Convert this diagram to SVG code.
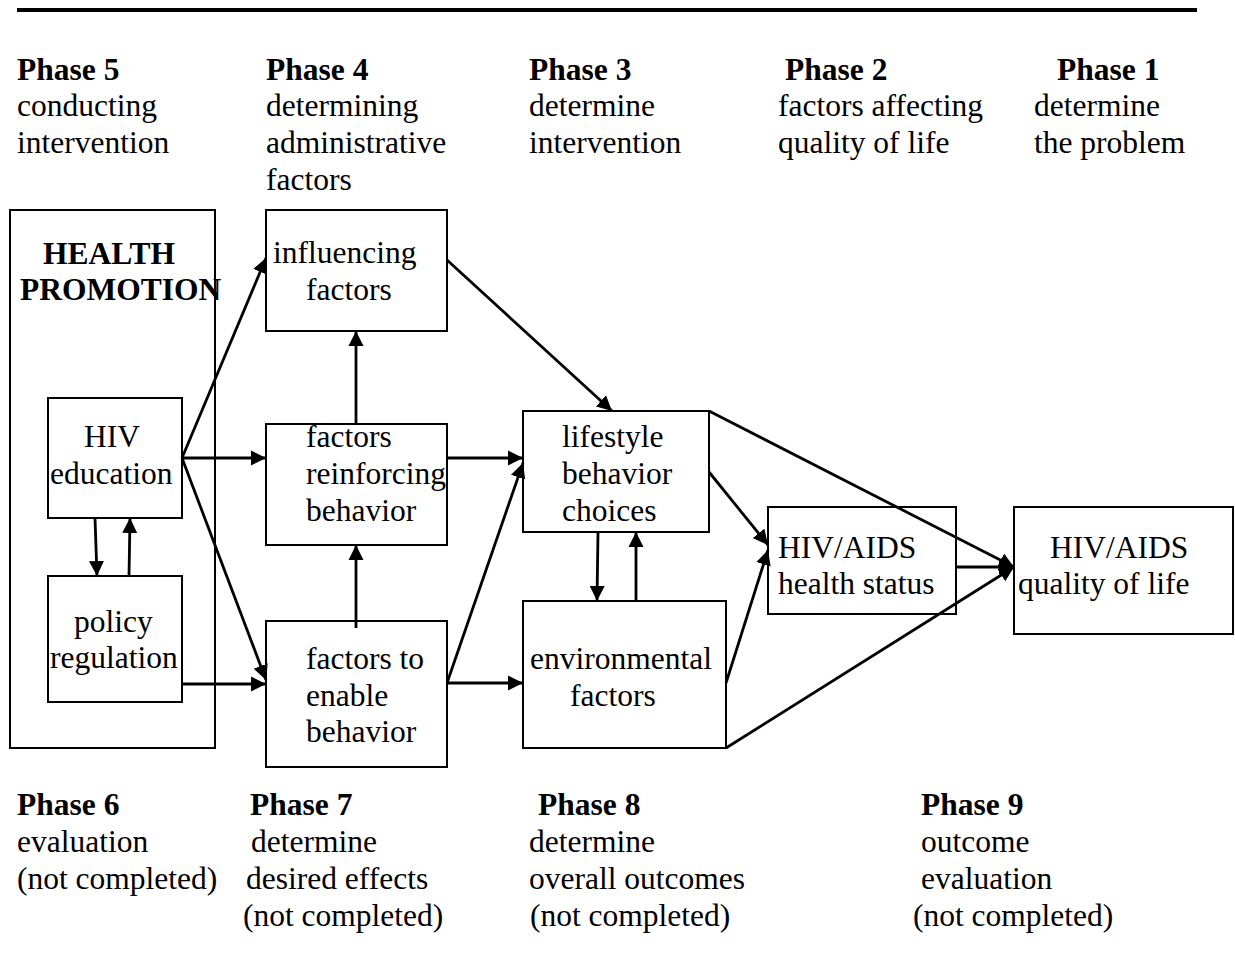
<svg xmlns="http://www.w3.org/2000/svg" width="1235" height="957" viewBox="0 0 1235 957">
<style>
text{font-family:"Liberation Serif","Times New Roman",serif;font-size:31.5px;fill:#000}
.b{font-weight:bold}
.box{fill:none;stroke:#000;stroke-width:2}
.c line{stroke:#000;stroke-width:2.8}
</style>
<defs>
<marker id="ah" markerUnits="userSpaceOnUse" markerWidth="16" markerHeight="16" refX="15" refY="8" orient="auto">
<path d="M0,0.5 L15,8 L0,15.5 z" fill="#000"/>
</marker>
</defs>
<rect width="1235" height="957" fill="#fff"/>
<line x1="17" y1="10" x2="1197" y2="10" stroke="#000" stroke-width="4"/>
<g id="phase-labels-top">
<text x="17" y="80" class="b">Phase 5</text>
<text x="17" y="116">conducting</text>
<text x="17" y="153">intervention</text>
<text x="266" y="80" class="b">Phase 4</text>
<text x="266" y="116">determining</text>
<text x="266" y="153">administrative</text>
<text x="266" y="190">factors</text>
<text x="529" y="80" class="b">Phase 3</text>
<text x="529" y="116">determine</text>
<text x="529" y="153">intervention</text>
<text x="785" y="80" class="b">Phase 2</text>
<text x="778" y="116">factors affecting</text>
<text x="778" y="153">quality of life</text>
<text x="1057" y="80" class="b">Phase 1</text>
<text x="1034" y="116">determine</text>
<text x="1034" y="153">the problem</text>
</g>
<g id="phase-labels-bottom">
<text x="17" y="815" class="b">Phase 6</text>
<text x="17" y="852">evaluation</text>
<text x="17" y="889">(not completed)</text>
<text x="250" y="815" class="b">Phase 7</text>
<text x="251" y="852">determine</text>
<text x="246" y="889">desired effects</text>
<text x="243" y="926">(not completed)</text>
<text x="538" y="815" class="b">Phase 8</text>
<text x="529" y="852">determine</text>
<text x="529" y="889">overall outcomes</text>
<text x="530" y="926">(not completed)</text>
<text x="921" y="815" class="b">Phase 9</text>
<text x="921" y="852">outcome</text>
<text x="921" y="889">evaluation</text>
<text x="913" y="926">(not completed)</text>
</g>
<g id="health-promotion">
<rect class="box" x="10" y="210" width="205" height="538"/>
<text x="43" y="264" class="b">HEALTH</text>
<text x="20" y="300" class="b">PROMOTION</text>
</g>
<g id="hiv-education">
<rect class="box" x="48" y="398" width="134" height="120"/>
<text x="84" y="447">HIV</text>
<text x="50" y="484">education</text>
</g>
<g id="policy-regulation">
<rect class="box" x="48" y="576" width="134" height="126"/>
<text x="74" y="632">policy</text>
<text x="50" y="668">regulation</text>
</g>
<g id="influencing-factors">
<rect class="box" x="266" y="210" width="181" height="121"/>
<text x="273" y="263">influencing</text>
<text x="306" y="300">factors</text>
</g>
<g id="reinforcing-factors">
<rect class="box" x="266" y="424" width="181" height="121"/>
<text x="306" y="447">factors</text>
<text x="306" y="484">reinforcing</text>
<text x="306" y="521">behavior</text>
</g>
<g id="enabling-factors">
<rect class="box" x="266" y="621" width="181" height="146"/>
<text x="306" y="669">factors to</text>
<text x="306" y="706">enable</text>
<text x="306" y="742">behavior</text>
</g>
<g id="lifestyle">
<rect class="box" x="523" y="411" width="186" height="121"/>
<text x="562" y="447">lifestyle</text>
<text x="562" y="484">behavior</text>
<text x="562" y="521">choices</text>
</g>
<g id="environmental">
<rect class="box" x="523" y="601" width="203" height="147"/>
<text x="530" y="669">environmental</text>
<text x="570" y="706">factors</text>
</g>
<g id="health-status">
<rect class="box" x="768" y="507" width="188" height="107"/>
<text x="778" y="558">HIV/AIDS</text>
<text x="778" y="594">health status</text>
</g>
<g id="quality-of-life">
<rect class="box" x="1014" y="507" width="219" height="127"/>
<text x="1050" y="558">HIV/AIDS</text>
<text x="1018" y="594">quality of life</text>
</g>
<g id="connectors" class="c">
<line x1="182" y1="458" x2="266" y2="258" marker-end="url(#ah)"/>
<line x1="182" y1="458" x2="266" y2="458" marker-end="url(#ah)"/>
<line x1="182" y1="458" x2="266" y2="680" marker-end="url(#ah)"/>
<line x1="182" y1="684" x2="266" y2="684" marker-end="url(#ah)"/>
<line x1="95" y1="518" x2="97" y2="576" marker-end="url(#ah)"/>
<line x1="129" y1="576" x2="130" y2="518" marker-end="url(#ah)"/>
<line x1="356" y1="424" x2="356" y2="331" marker-end="url(#ah)"/>
<line x1="356" y1="628" x2="356" y2="545" marker-end="url(#ah)"/>
<line x1="447" y1="260" x2="612" y2="411" marker-end="url(#ah)"/>
<line x1="447" y1="458" x2="523" y2="458" marker-end="url(#ah)"/>
<line x1="447" y1="683" x2="523" y2="463" marker-end="url(#ah)"/>
<line x1="447" y1="683" x2="523" y2="683" marker-end="url(#ah)"/>
<line x1="598" y1="532" x2="597" y2="601" marker-end="url(#ah)"/>
<line x1="636" y1="601" x2="636" y2="532" marker-end="url(#ah)"/>
<line x1="709" y1="472" x2="768" y2="545" marker-end="url(#ah)"/>
<line x1="726" y1="683" x2="768" y2="550" marker-end="url(#ah)"/>
<line x1="709" y1="411" x2="1014" y2="567" marker-end="url(#ah)"/>
<line x1="726" y1="748" x2="1014" y2="567" marker-end="url(#ah)"/>
<line x1="956" y1="567" x2="1014" y2="567" marker-end="url(#ah)"/>
</g>
</svg>
